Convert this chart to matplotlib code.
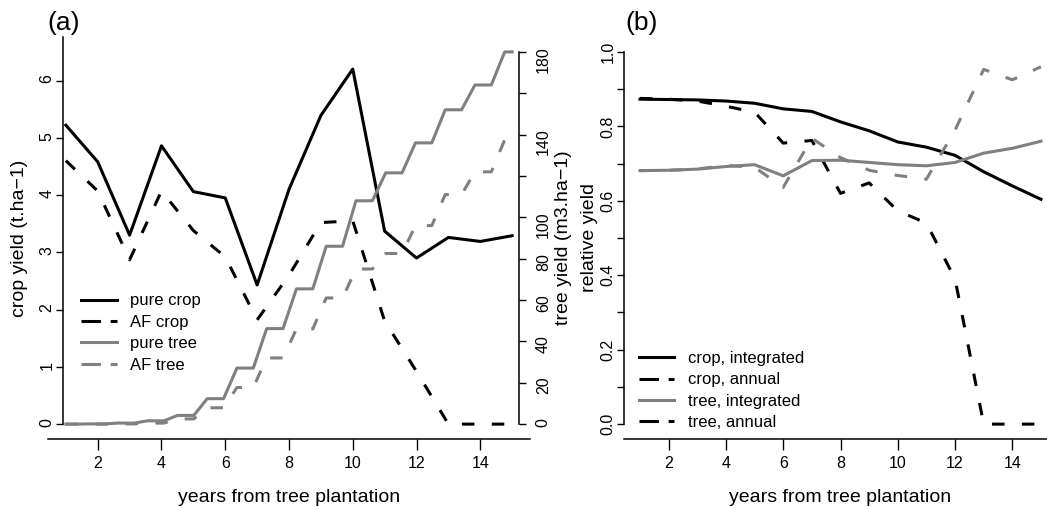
import matplotlib
matplotlib.use("Agg")
import matplotlib.pyplot as plt
from matplotlib.lines import Line2D

plt.rcParams["font.family"] = ["Liberation Sans", "DejaVu Sans"]
plt.rcParams["lines.scale_dashes"] = False

W, H = 1047, 508

# annual crop yields (t/ha)
years = list(range(1, 16))
pure_crop = [5.22, 4.58, 3.30, 4.86, 4.06, 3.95, 2.43, 4.10, 5.39, 6.20, 3.37, 2.90, 3.26, 3.19, 3.29]
af_crop = [4.60, 4.07, 2.87, 4.07, 3.38, 2.92, 1.82, 2.60, 3.52, 3.55, 1.80, 0.92, 0.0, 0.0, 0.0]

# tree volume reached at the end of each growing season (m3/ha)
pure_tree = [0.1, 0.5, 1.6, 4.2, 12.3, 27.1, 46.2, 65.4, 86.0, 108.0, 121.5, 136.0, 152.0, 164.0, 180.0]
af_tree = [0.0, 0.1, 0.5, 2.5, 7.9, 17.7, 32.0, 46.0, 61.0, 75.0, 82.5, 96.0, 111.0, 122.0, 137.5]
season = (0.3, 0.75)  # growth period, as fraction of the year

# relative yields
rel_crop_int = [0.873, 0.872, 0.871, 0.868, 0.862, 0.847, 0.840, 0.812, 0.788, 0.758, 0.744, 0.722, 0.678, 0.640, 0.604]
rel_crop_ann = [0.875, 0.873, 0.868, 0.854, 0.838, 0.755, 0.762, 0.620, 0.648, 0.573, 0.540, 0.390, 0.0, 0.0, 0.0]
rel_tree_int = [0.681, 0.682, 0.685, 0.692, 0.697, 0.667, 0.708, 0.709, 0.703, 0.697, 0.694, 0.703, 0.728, 0.741, 0.760]
rel_tree_ann = [0.681, 0.682, 0.685, 0.695, 0.690, 0.636, 0.768, 0.716, 0.682, 0.668, 0.658, 0.790, 0.953, 0.925, 0.960]

GREY = "#808080"
LW = 2.2
DASH = (0, (9, 12.5))
LEG_DASH = (0, (14, 7))


def staircase(vals):
    # daily series over 15 years drawn between x=1 and x=15
    step = 14 / 15
    xs, ys = [1.0], [0.0]
    prev = 0.0
    for k, v in enumerate(vals):
        xs += [1 + (k + season[0]) * step, 1 + (k + season[1]) * step]
        ys += [prev, v]
        prev = v
    xs.append(15.0)
    ys.append(prev)
    return xs, ys


def px_box(l, r, t, b):
    return [l / W, 1 - b / H, (r - l) / W, (b - t) / H]


def style_axis(ax, ylim):
    ax.set_xlim(0.44, 15.56)
    ax.set_ylim(*ylim)
    ax.set_xticks([2, 4, 6, 8, 10, 12, 14])
    ax.tick_params(axis="x", length=8, width=1, pad=4, labelsize=11.5)
    ax.tick_params(axis="y", length=5, width=1, pad=1, labelsize=11.5,
                   labelrotation=90)
    for lab in ax.get_yticklabels():
        lab.set_va("center")
    for s in ["top", "right"]:
        ax.spines[s].set_visible(False)
    ax.spines["left"].set_linewidth(1.1)
    ax.spines["bottom"].set_linewidth(1.1)
    ax.patch.set_alpha(0)


fig = plt.figure(figsize=(W / 100, H / 100), dpi=100)

# ---- panel (a)
ax1 = fig.add_axes(px_box(48, 530, 37, 439))
ax1.plot(years, pure_crop, color="black", lw=LW)
ax1.plot(years, af_crop, color="black", lw=LW, ls=DASH)
ax1.set_yticks([0, 1, 2, 3, 4, 5, 6])
style_axis(ax1, (-0.26, 6.76))
ax1.spines["left"].set_position(("data", 0.91))
ax1.spines["left"].set_bounds(0, 6.76)

ax2 = ax1.twinx()
tx, ty = staircase(pure_tree)
ax2.plot(tx, ty, color=GREY, lw=LW)
tx, ty = staircase(af_tree)
ax2.plot(tx, ty, color=GREY, lw=LW, ls=DASH)
ax2.set_ylim(-7.2, 187.2)
ax2.set_yticks(range(0, 181, 20))
ax2.set_yticklabels(["" if v in (120, 160) else str(v) for v in range(0, 181, 20)])
ax2.tick_params(axis="y", length=5, width=1, pad=7, labelsize=11.5,
                labelrotation=90)
for t in ax2.yaxis.get_major_ticks():
    t.label2.set_va("center")
for s in ["top", "left", "bottom"]:
    ax2.spines[s].set_visible(False)
ax2.spines["right"].set_position(("data", 15.22))
ax2.spines["right"].set_bounds(0, 180)
ax2.spines["right"].set_linewidth(1.1)

h1 = [
    Line2D([], [], color="black", lw=LW),
    Line2D([], [], color="black", lw=LW, ls=LEG_DASH),
    Line2D([], [], color=GREY, lw=LW),
    Line2D([], [], color=GREY, lw=LW, ls=LEG_DASH),
]
ax2.legend(h1, ["pure crop", "AF crop", "pure tree", "AF tree"],
           loc="upper left", bbox_to_anchor=((81 - 48) / 482, (439 - 293.5) / 402),
           frameon=False, fontsize=12, handlelength=2.15, handletextpad=0.8,
           labelspacing=0.38, borderpad=0, borderaxespad=0)

fig.text(64 / W, 1 - 23 / H, "(a)", fontsize=19, ha="center", va="center")
fig.text(289 / W, 1 - 502 / H, "years from tree plantation", fontsize=14,
         ha="center", va="baseline")
fig.text(20 / W, 1 - 238 / H, "crop yield (t.ha\u22121)", fontsize=14,
         ha="center", va="center", rotation=90)
fig.text(563 / W, 1 - 238 / H, "tree yield (m3.ha\u22121)", fontsize=14,
         ha="center", va="center", rotation=90)

# ---- panel (b)
ax3 = fig.add_axes(px_box(624, 1057, 37, 439))
ax3.plot(years, rel_crop_int, color="black", lw=LW)
ax3.plot(years, rel_crop_ann, color="black", lw=LW, ls=DASH)
ax3.plot(years, rel_tree_int, color=GREY, lw=LW)
ax3.plot(years, rel_tree_ann, color=GREY, lw=LW, ls=DASH)
yt = [i / 10 for i in range(11)]
ax3.set_yticks(yt)
ax3.set_yticklabels([f"{v:.1f}" if i % 2 == 0 else "" for i, v in enumerate(yt)])
style_axis(ax3, (-0.04, 1.04))
ax3.spines["left"].set_bounds(0, 1)

h3 = [
    Line2D([], [], color="black", lw=LW),
    Line2D([], [], color="black", lw=LW, ls=LEG_DASH),
    Line2D([], [], color=GREY, lw=LW),
    Line2D([], [], color="black", lw=LW, ls=LEG_DASH),
]
ax3.legend(h3, ["crop, integrated", "crop, annual", "tree, integrated", "tree, annual"],
           loc="upper left", bbox_to_anchor=((639 - 624) / 433, (439 - 351) / 402),
           frameon=False, fontsize=12, handlelength=2.1, handletextpad=0.85,
           labelspacing=0.38, borderpad=0, borderaxespad=0)

fig.text(642 / W, 1 - 23 / H, "(b)", fontsize=19, ha="center", va="center")
fig.text(840 / W, 1 - 502 / H, "years from tree plantation", fontsize=14,
         ha="center", va="baseline")
fig.text(590 / W, 1 - 238 / H, "relative yield", fontsize=14,
         ha="center", va="center", rotation=90)

fig.savefig("out.png", dpi=100)
